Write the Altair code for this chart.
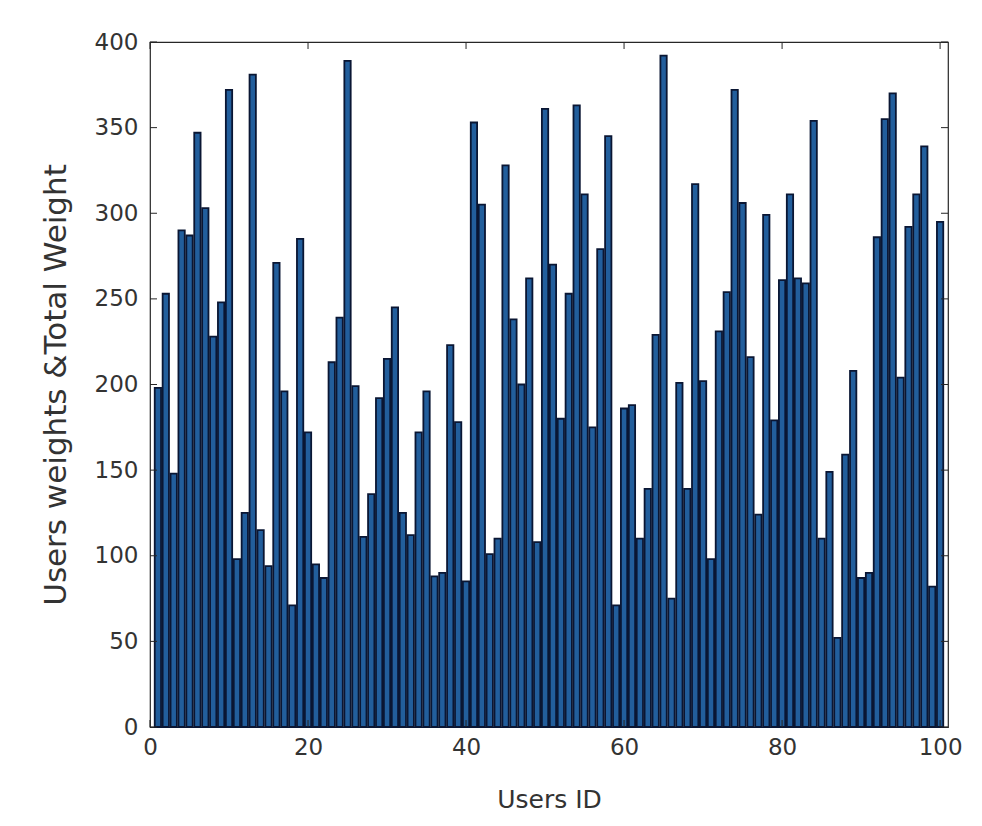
import altair as alt
import pandas as pd

user_ids = list(range(1, 101))
weights = [
    198, 253, 148, 290, 287, 347, 303, 228, 248, 372,
    98, 125, 381, 115, 94, 271, 196, 71, 285, 172,
    95, 87, 213, 239, 389, 199, 111, 136, 192, 215,
    245, 125, 112, 172, 196, 88, 90, 223, 178, 85,
    353, 305, 101, 110, 328, 238, 200, 262, 108, 361,
    270, 180, 253, 363, 311, 175, 279, 345, 71, 186,
    188, 110, 139, 229, 392, 75, 201, 139, 317, 202,
    98, 231, 254, 372, 306, 216, 124, 299, 179, 261,
    311, 262, 259, 354, 110, 149, 52, 159, 208, 87,
    90, 286, 355, 370, 204, 292, 311, 339, 82, 295,
]
x_ticks = [0, 20, 40, 60, 80, 100]
y_ticks = [0, 50, 100, 150, 200, 250, 300, 350, 400]

W, H = 798, 685
FONT = "DejaVu Sans"
TXT = "#333333"

df = pd.DataFrame({"id": user_ids, "w": weights})
xt = pd.DataFrame({"x0": x_ticks})
yt = pd.DataFrame({"w": y_ticks})

xscale = alt.Scale(domain=[0, 101], nice=False, zero=False)
yscale = alt.Scale(domain=[0, 400], nice=False)

bars = (
    alt.Chart(df)
    .transform_calculate(x0="datum.id - 0.4", x1="datum.id + 0.4")
    .mark_bar(fill="#225e9c", stroke="#0a1633", strokeWidth=1.8)
    .encode(
        x=alt.X("x0:Q", scale=xscale,
                axis=alt.Axis(values=x_ticks, title="Users ID", titlePadding=28,
                              labelPadding=9, labelFlush=False)),
        x2="x1:Q",
        y=alt.Y("w:Q", scale=yscale,
                axis=alt.Axis(values=y_ticks, title="Users weights &Total Weight",
                              titlePadding=22, labelPadding=12, titleFontSize=31,
                              labelFlush=False)),
        y2=alt.datum(0),
    )
)

tick_style = dict(color="#262626", strokeWidth=1)
left_t = alt.Chart(yt).mark_rule(**tick_style).encode(
    y=alt.Y("w:Q"), x=alt.value(0), x2=alt.value(7))
right_t = alt.Chart(yt).mark_rule(**tick_style).encode(
    y=alt.Y("w:Q"), x=alt.value(W - 7), x2=alt.value(W))
top_t = alt.Chart(xt).mark_rule(**tick_style).encode(
    x=alt.X("x0:Q"), y=alt.value(0), y2=alt.value(7))
bot_t = alt.Chart(xt).mark_rule(**tick_style).encode(
    x=alt.X("x0:Q"), y=alt.value(H - 7), y2=alt.value(H))

chart = (
    alt.layer(bars, left_t, right_t, top_t, bot_t)
    .properties(
        width=W, height=H,
        autosize=alt.AutoSizeParams(type="none"),
        padding={"left": 142, "top": 34, "right": 20, "bottom": 88},
        background="white",
    )
    .configure_view(stroke="#262626", strokeWidth=1.2)
    .configure_axis(
        domain=False, ticks=False, grid=False,
        labelFont=FONT, titleFont=FONT, labelFontSize=23, titleFontSize=25,
        labelColor=TXT, titleColor=TXT, titleFontWeight="normal",
    )
)

chart.save("out.html", embed_options={"renderer": "svg", "actions": False})
